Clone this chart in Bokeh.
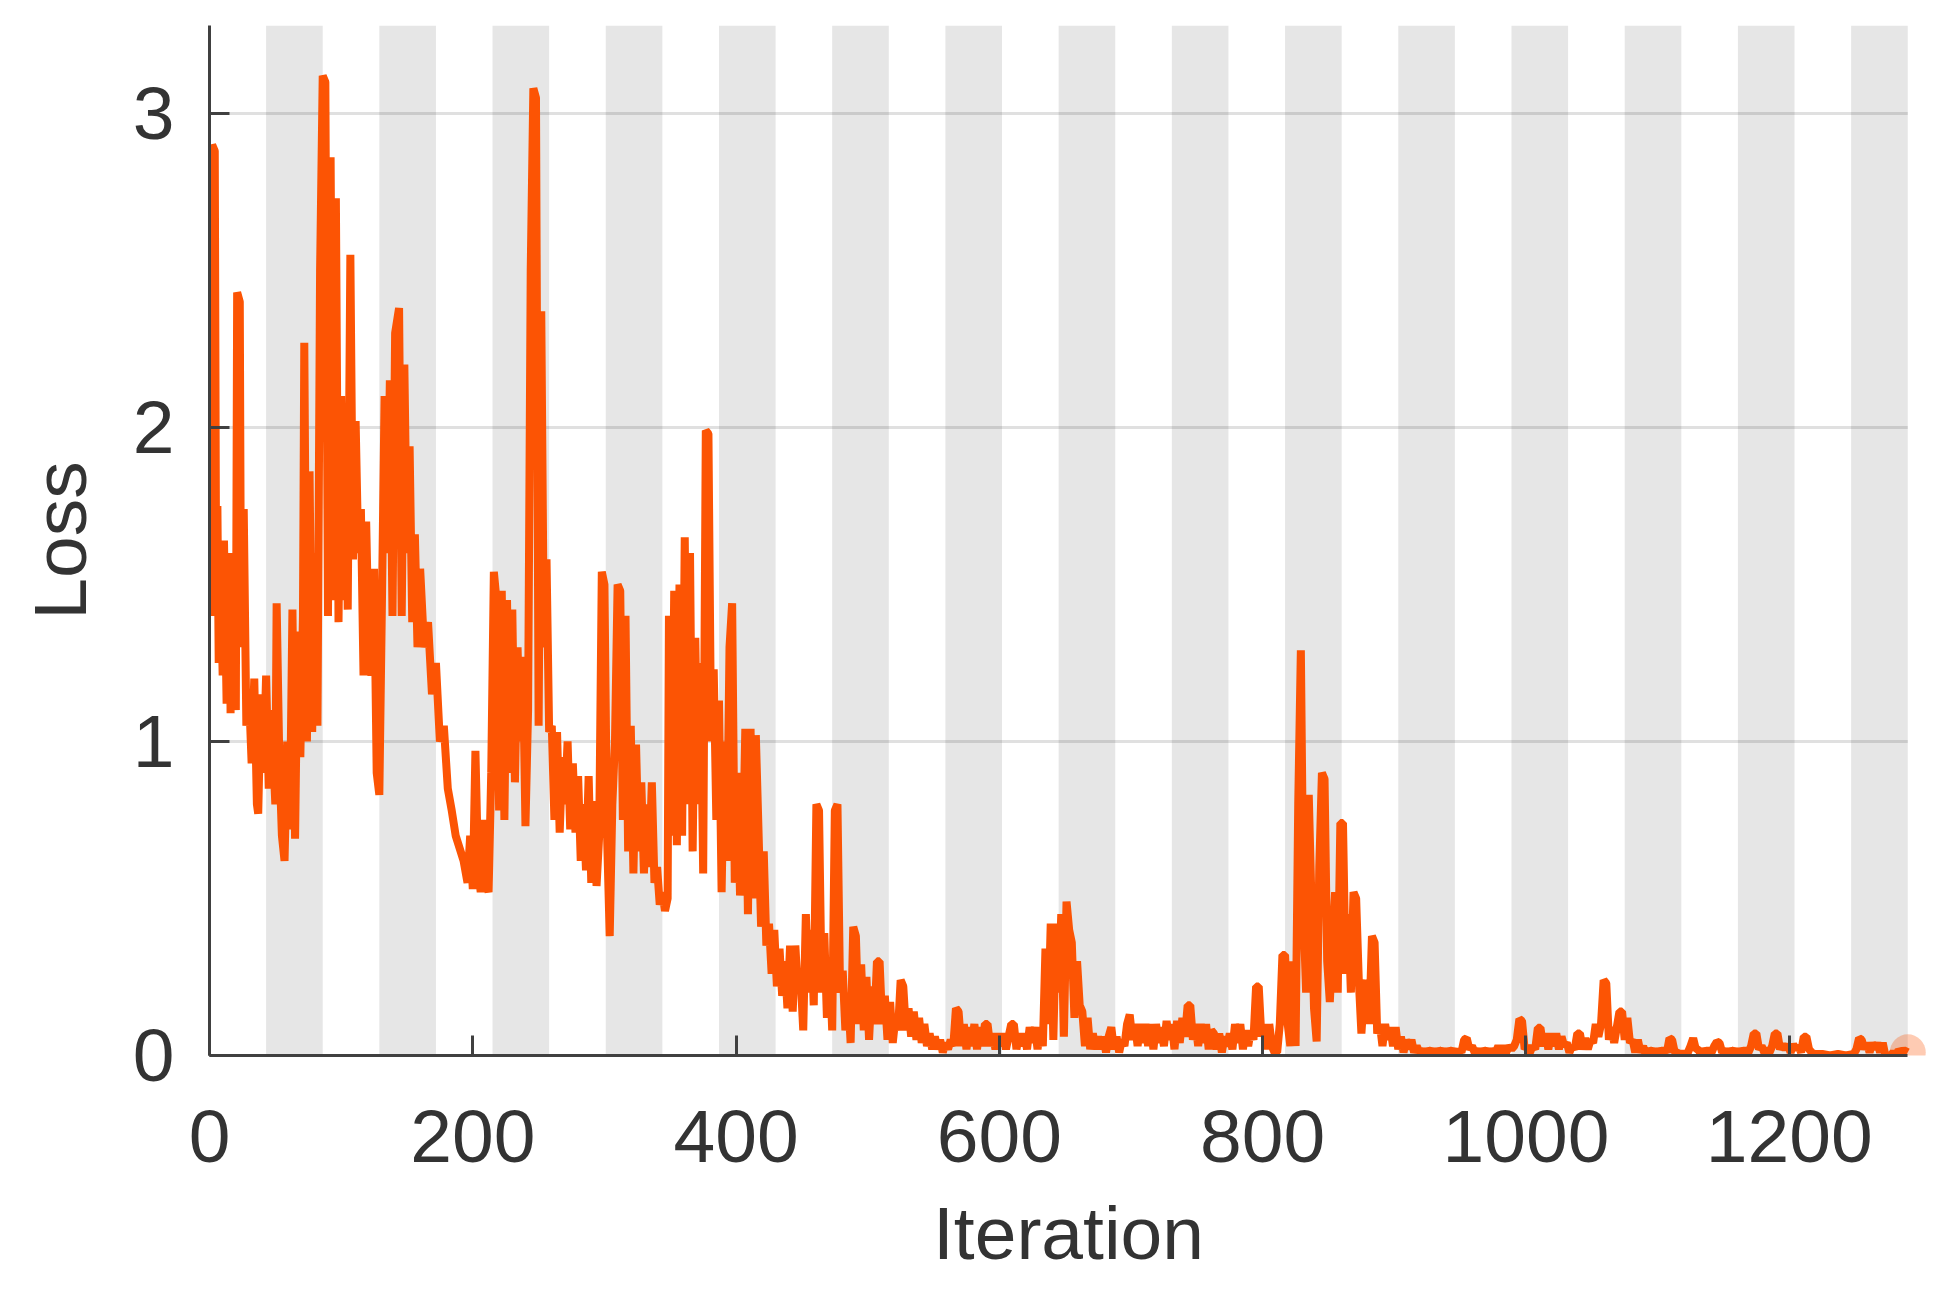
from bokeh.plotting import figure
from bokeh.models import Range1d, FixedTicker
from bokeh.embed import file_html
from bokeh.resources import INLINE

# ---------------- data ----------------
iteration = [
    0, 1, 2, 4, 5, 6, 7, 8, 10, 11,
    13, 15, 16, 18, 20, 21, 23, 24, 26, 28,
    30, 32, 34, 36, 37, 39, 41, 43, 45, 47,
    50, 51, 53, 55, 57, 59, 61, 63, 65, 67,
    69, 71, 72, 74, 76, 78, 80, 82, 84, 86,
    88, 90, 92, 94, 96, 98, 100, 102, 104, 105,
    107, 109, 111, 113, 115, 117, 119, 121, 123, 125,
    127, 129, 131, 133, 135, 137, 139, 141, 144, 146,
    148, 150, 152, 154, 156, 158, 160, 163, 166, 169,
    172, 175, 178, 181, 184, 187, 190, 193, 196, 198,
    200, 202, 204, 206, 208, 210, 212, 214, 216, 218,
    220, 222, 224, 226, 228, 230, 232, 234, 236, 238,
    240, 242, 244, 246, 248, 250, 252, 254, 256, 258,
    260, 262, 264, 266, 268, 270, 272, 274, 276, 278,
    280, 282, 284, 286, 288, 290, 292, 294, 296, 298,
    300, 302, 304, 306, 308, 310, 312, 314, 316, 318,
    320, 322, 324, 326, 328, 330, 332, 334, 336, 338,
    340, 342, 344, 346, 348, 349, 351, 353, 355, 357,
    359, 361, 363, 365, 367, 369, 371, 373, 375, 377,
    379, 381, 383, 385, 387, 389, 391, 393, 395, 397,
    399, 401, 403, 405, 407, 409, 411, 413, 415, 417,
    419, 421, 423, 425, 427, 429, 431, 433, 435, 437,
    439, 441, 443, 445, 447, 449, 451, 453, 455, 457,
    459, 461, 463, 465, 467, 469, 471, 473, 475, 477,
    479, 481, 483, 485, 487, 489, 491, 493, 495, 497,
    499, 501, 503, 505, 507, 509, 511, 513, 515, 517,
    519, 521, 523, 525, 527, 529, 531, 533, 535, 537,
    539, 541, 543, 545, 547, 549, 551, 553, 555, 557,
    559, 561, 563, 565, 567, 569, 571, 573, 575, 577,
    579, 581, 583, 585, 587, 589, 591, 593, 595, 597,
    599, 601, 603, 605, 607, 609, 611, 613, 615, 617,
    619, 621, 623, 625, 627, 629, 631, 633, 635, 637,
    639, 641, 643, 645, 647, 649, 651, 653, 655, 657,
    659, 661, 663, 665, 667, 669, 671, 673, 675, 677,
    679, 681, 683, 685, 687, 689, 691, 693, 695, 697,
    699, 701, 703, 705, 707, 709, 711, 713, 715, 717,
    719, 721, 723, 725, 727, 729, 731, 733, 735, 737,
    739, 741, 743, 745, 747, 749, 751, 753, 755, 757,
    759, 761, 763, 765, 767, 769, 771, 773, 775, 777,
    779, 781, 783, 785, 787, 789, 791, 793, 795, 797,
    799, 801, 803, 805, 807, 809, 811, 813, 815, 817,
    819, 821, 823, 825, 827, 829, 831, 833, 835, 837,
    839, 841, 843, 845, 847, 849, 851, 853, 855, 857,
    859, 861, 863, 865, 867, 869, 871, 873, 875, 877,
    879, 881, 883, 885, 887, 889, 891, 893, 895, 897,
    899, 901, 903, 905, 907, 909, 911, 913, 915, 917,
    919, 921, 923, 925, 927, 929, 931, 933, 935, 937,
    939, 941, 943, 945, 947, 949, 951, 953, 955, 957,
    959, 961, 963, 965, 967, 969, 971, 973, 975, 977,
    979, 981, 983, 985, 987, 989, 991, 993, 995, 997,
    999, 1001, 1003, 1005, 1007, 1009, 1011, 1013, 1015, 1017,
    1019, 1021, 1023, 1025, 1027, 1029, 1031, 1033, 1035, 1037,
    1039, 1041, 1043, 1045, 1047, 1049, 1051, 1053, 1055, 1057,
    1059, 1061, 1063, 1065, 1067, 1069, 1071, 1073, 1075, 1077,
    1079, 1081, 1083, 1085, 1087, 1089, 1091, 1093, 1095, 1097,
    1099, 1101, 1103, 1105, 1107, 1109, 1111, 1113, 1115, 1117,
    1119, 1121, 1123, 1125, 1127, 1129, 1131, 1133, 1135, 1137,
    1139, 1141, 1143, 1145, 1147, 1149, 1151, 1153, 1155, 1157,
    1159, 1161, 1163, 1165, 1167, 1169, 1171, 1173, 1175, 1177,
    1179, 1181, 1183, 1185, 1187, 1189, 1191, 1193, 1195, 1197,
    1199, 1201, 1203, 1205, 1207, 1209, 1211, 1213, 1215, 1217,
    1219, 1225, 1231, 1237, 1243, 1249, 1251, 1253, 1255, 1257,
    1259, 1261, 1263, 1265, 1267, 1269, 1271, 1273, 1275, 1277,
    1279, 1281, 1283, 1285, 1287, 1290,
]

loss = [
    1.85, 1.40, 2.90, 2.88, 1.55, 1.75, 1.25, 1.62, 1.21, 1.64,
    1.12, 1.60, 1.09, 1.45, 1.10, 2.43, 2.40, 1.30, 1.74, 1.05,
    1.15, 0.93, 1.20, 0.80, 0.77, 1.15, 0.90, 1.21, 0.85, 1.10,
    0.80, 1.44, 0.95, 0.70, 0.62, 1.00, 0.72, 1.42, 0.69, 1.35,
    0.95, 1.40, 2.27, 1.00, 1.86, 1.03, 1.60, 1.05, 2.50, 3.12,
    3.10, 1.40, 2.86, 1.45, 2.73, 1.38, 2.10, 1.45, 1.80, 1.42,
    2.55, 1.58, 2.02, 1.60, 1.74, 1.21, 1.70, 1.30, 1.21, 1.55,
    0.90, 0.83, 1.45, 2.10, 1.60, 2.15, 1.40, 2.30, 2.38, 1.40,
    2.20, 1.60, 1.94, 1.38, 1.66, 1.30, 1.55, 1.30, 1.38, 1.15,
    1.25, 1.00, 1.05, 0.85, 0.78, 0.70, 0.66, 0.62, 0.55, 0.70,
    0.53, 0.97, 0.60, 0.52, 0.75, 0.55, 0.52, 0.90, 1.54, 1.45,
    0.78, 1.48, 0.75, 1.45, 0.90, 1.42, 0.87, 1.30, 1.00, 1.27,
    0.73, 1.10, 2.50, 3.08, 3.05, 1.05, 2.37, 1.30, 1.58, 1.03,
    1.05, 0.75, 1.03, 0.71, 0.95, 0.80, 1.00, 0.72, 0.93, 0.71,
    0.89, 0.62, 0.80, 0.59, 0.89, 0.55, 0.81, 0.54, 0.70, 1.54,
    1.50, 0.70, 0.38, 0.80, 1.00, 1.50, 1.48, 0.75, 1.40, 0.65,
    1.05, 0.58, 0.99, 0.65, 0.87, 0.58, 0.80, 0.60, 0.87, 0.55,
    0.60, 0.48, 0.52, 0.46, 0.50, 1.40, 0.70, 1.48, 0.67, 1.50,
    0.70, 1.65, 0.80, 1.60, 0.65, 1.33, 0.80, 1.25, 0.58, 1.99,
    1.98, 1.00, 1.23, 0.75, 1.13, 0.52, 1.00, 0.62, 1.30, 1.44,
    0.55, 0.90, 0.51, 0.60, 1.04, 0.45, 1.04, 0.50, 1.02, 0.72,
    0.41, 0.65, 0.35, 0.42, 0.26, 0.40, 0.22, 0.34, 0.19, 0.30,
    0.15, 0.35, 0.14, 0.35, 0.20, 0.25, 0.08, 0.45, 0.20, 0.40,
    0.16, 0.80, 0.78, 0.20, 0.39, 0.12, 0.30, 0.08, 0.78, 0.80,
    0.20, 0.27, 0.08, 0.20, 0.04, 0.41, 0.38, 0.10, 0.29, 0.08,
    0.25, 0.05, 0.22, 0.10, 0.30, 0.30, 0.10, 0.19, 0.05, 0.17,
    0.04, 0.12, 0.08, 0.24, 0.22, 0.08, 0.15, 0.06, 0.14, 0.05,
    0.12, 0.04, 0.10, 0.03, 0.07, 0.02, 0.06, 0.02, 0.05, 0.01,
    0.04, 0.02, 0.05, 0.03, 0.15, 0.14, 0.03, 0.10, 0.02, 0.09,
    0.03, 0.10, 0.02, 0.09, 0.03, 0.10, 0.10, 0.03, 0.07, 0.02,
    0.07, 0.03, 0.07, 0.02, 0.06, 0.10, 0.10, 0.02, 0.07, 0.03,
    0.07, 0.02, 0.09, 0.04, 0.09, 0.02, 0.09, 0.03, 0.34, 0.10,
    0.42, 0.05, 0.42, 0.20, 0.45, 0.06, 0.49, 0.40, 0.36, 0.12,
    0.30, 0.16, 0.14, 0.03, 0.12, 0.02, 0.07, 0.02, 0.06, 0.02,
    0.06, 0.01, 0.06, 0.09, 0.02, 0.06, 0.01, 0.05, 0.03, 0.10,
    0.13, 0.05, 0.10, 0.03, 0.10, 0.04, 0.10, 0.03, 0.10, 0.02,
    0.10, 0.04, 0.09, 0.03, 0.11, 0.05, 0.10, 0.02, 0.11, 0.04,
    0.12, 0.06, 0.16, 0.16, 0.05, 0.10, 0.03, 0.10, 0.04, 0.10,
    0.02, 0.08, 0.07, 0.02, 0.07, 0.01, 0.06, 0.03, 0.07, 0.02,
    0.10, 0.04, 0.10, 0.02, 0.08, 0.03, 0.08, 0.05, 0.22, 0.22,
    0.06, 0.10, 0.02, 0.10, 0.03, 0.01, 0.01, 0.10, 0.32, 0.32,
    0.10, 0.03, 0.30, 0.03, 0.80, 1.29, 0.45, 0.20, 0.83, 0.50,
    0.15, 0.045, 0.60, 0.90, 0.88, 0.30, 0.17, 0.35, 0.52, 0.20,
    0.74, 0.74, 0.26, 0.45, 0.20, 0.52, 0.50, 0.24, 0.07, 0.20,
    0.24, 0.10, 0.38, 0.36, 0.07, 0.10, 0.03, 0.10, 0.05, 0.09,
    0.03, 0.09, 0.02, 0.06, 0.01, 0.05, 0.02, 0.05, 0.01, 0.03,
    0.01, 0.02, 0.00, 0.02, 0.01, 0.02, 0.00, 0.02, 0.01, 0.02,
    0.00, 0.02, 0.01, 0.02, 0.00, 0.02, 0.01, 0.05, 0.055, 0.02,
    0.03, 0.01, 0.02, 0.00, 0.02, 0.01, 0.02, 0.00, 0.02, 0.01,
    0.03, 0.01, 0.03, 0.01, 0.03, 0.02, 0.03, 0.05, 0.116, 0.11,
    0.02, 0.03, 0.01, 0.03, 0.02, 0.088, 0.088, 0.03, 0.07, 0.02,
    0.07, 0.03, 0.07, 0.02, 0.06, 0.03, 0.04, 0.01, 0.03, 0.02,
    0.07, 0.07, 0.02, 0.055, 0.02, 0.05, 0.04, 0.10, 0.06, 0.10,
    0.24, 0.23, 0.05, 0.09, 0.04, 0.09, 0.14, 0.14, 0.05, 0.12,
    0.04, 0.05, 0.01, 0.05, 0.01, 0.03, 0.00, 0.02, 0.01, 0.02,
    0.00, 0.02, 0.01, 0.02, 0.01, 0.055, 0.05, 0.01, 0.01, 0.00,
    0.01, 0.00, 0.01, 0.03, 0.055, 0.02, 0.02, 0.00, 0.02, 0.01,
    0.02, 0.01, 0.03, 0.044, 0.04, 0.01, 0.02, 0.00, 0.02, 0.01,
    0.02, 0.00, 0.02, 0.01, 0.02, 0.01, 0.03, 0.07, 0.07, 0.02,
    0.03, 0.01, 0.02, 0.01, 0.03, 0.07, 0.07, 0.02, 0.035, 0.02,
    0.035, 0.01, 0.035, 0.02, 0.03, 0.01, 0.06, 0.06, 0.02, 0.01,
    0.005, 0.005, 0.00, 0.005, 0.00, 0.005, 0.02, 0.055, 0.05, 0.02,
    0.04, 0.01, 0.04, 0.02, 0.04, 0.01, 0.04, 0.00, 0.00, 0.00,
    0.01, 0.00, 0.017, 0.01, 0.017, 0.01,
]

# shaded (even-numbered) epochs, in iterations
epoch_band_start = [43, 129, 215, 301, 387, 473, 559, 645, 731, 817, 903, 989, 1075, 1161, 1247]
epoch_band_end = [86, 172, 258, 344, 430, 516, 602, 688, 774, 860, 946, 1032, 1118, 1204, 1290]

x_ticks = [0, 200, 400, 600, 800, 1000, 1200]
y_ticks = [0, 1, 2, 3]
grid_levels = [1, 2, 3]

x_max = 1290
y_max = 3.28

assert len(iteration) == len(loss)

# ---------------- figure ----------------
TEXT = "#333333"
AXIS = "#404040"
FONT = "Liberation Sans"

x_pad = 15  # room so the end marker is not clipped
p = figure(
    width=1934, height=1285,
    output_backend="svg", toolbar_location=None,
    x_range=Range1d(0, x_max + x_pad), y_range=Range1d(0, y_max),
    min_border_left=209, min_border_right=7,
    min_border_top=25, min_border_bottom=230,
)
p.outline_line_color = None
p.background_fill_color = "white"
p.border_fill_color = "white"

# epoch shading
n_b = len(epoch_band_start)
p.quad(left=epoch_band_start, right=epoch_band_end,
       bottom=[0] * n_b, top=[y_max] * n_b,
       fill_color="#E6E6E6", line_color=None, level="image")

# horizontal grid lines (stop at last iteration)
p.xgrid.visible = False
p.ygrid.visible = False
p.segment(x0=[0] * len(grid_levels), x1=[x_max] * len(grid_levels),
          y0=grid_levels, y1=grid_levels,
          line_color="#000000", line_alpha=0.12, line_width=3, level="underlay")

# loss line
p.line(iteration, loss, line_color="#FC5404", line_width=8)

# final point marker
p.scatter([iteration[-1]], [loss[-1]], size=36, fill_color="#FC5404",
          fill_alpha=0.3, line_color=None)

# axes
p.xaxis.ticker = FixedTicker(ticks=x_ticks)
p.yaxis.ticker = FixedTicker(ticks=y_ticks)
p.xaxis.bounds = (0, x_max)
for ax in (p.xaxis[0], p.yaxis[0]):
    ax.axis_line_color = AXIS
    ax.axis_line_width = 3
    ax.major_tick_line_color = AXIS
    ax.major_tick_line_width = 3
    ax.major_tick_in = 20
    ax.major_tick_out = 0
    ax.minor_tick_line_color = None
    ax.major_label_text_font = FONT
    ax.major_label_text_font_size = "75px"
    ax.major_label_text_color = TEXT
    ax.axis_label_text_font = FONT
    ax.axis_label_text_font_size = "75px"
    ax.axis_label_text_font_style = "normal"
    ax.axis_label_text_color = TEXT

p.xaxis.axis_label = "Iteration"
p.yaxis.axis_label = "Loss"
p.xaxis.major_label_standoff = 55
p.yaxis.major_label_standoff = 35
p.xaxis.axis_label_standoff = 26
p.yaxis.axis_label_standoff = 28

open("out.html", "w").write(file_html(p, INLINE))
